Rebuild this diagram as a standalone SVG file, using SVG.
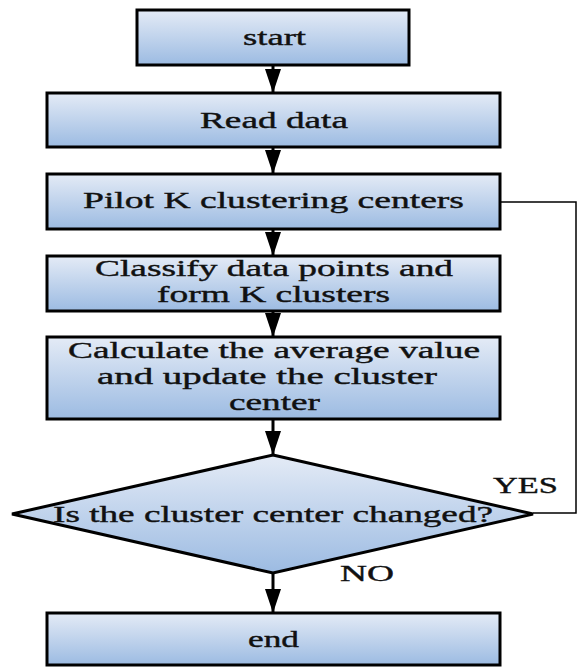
<svg xmlns="http://www.w3.org/2000/svg" width="578" height="668" viewBox="0 0 578 668">
<defs>
<linearGradient id="g" x1="0" y1="0" x2="0" y2="1">
<stop offset="0" stop-color="#e4ebf6"/>
<stop offset="1" stop-color="#9cbbe2"/>
</linearGradient>
<marker id="ah" markerUnits="userSpaceOnUse" markerWidth="26" markerHeight="16" refX="24" refY="8" orient="auto">
<path d="M0,0 L24,8 L0,16 Z" fill="#000"/>
</marker>
<style>
.box{fill:url(#g);stroke:#000;stroke-width:3}
.t{font-family:'Liberation Serif','Times New Roman',serif;font-size:24px;fill:#111;stroke:#111;stroke-width:0.4}
.c{stroke:#000;stroke-width:3;fill:none;marker-end:url(#ah)}
.fb{stroke:#000;stroke-width:1.5;fill:none}
</style>
</defs>
<rect width="578" height="668" fill="#fff"/>
<g id="start">
<rect class="box" x="137" y="10" width="272" height="55"/>
<text class="t" x="243" y="45" textLength="63" lengthAdjust="spacingAndGlyphs">start</text>
</g>
<g id="read">
<rect class="box" x="47" y="93" width="453" height="54"/>
<text class="t" x="200" y="128" textLength="148" lengthAdjust="spacingAndGlyphs">Read data</text>
</g>
<g id="pilot">
<rect class="box" x="47" y="174" width="453" height="55"/>
<text class="t" x="83" y="208" textLength="381" lengthAdjust="spacingAndGlyphs">Pilot K clustering centers</text>
</g>
<g id="classify">
<rect class="box" x="47" y="256" width="453" height="55"/>
<text class="t" x="95" y="276" textLength="358" lengthAdjust="spacingAndGlyphs">Classify data points and</text>
<text class="t" x="157" y="302" textLength="233" lengthAdjust="spacingAndGlyphs">form K clusters</text>
</g>
<g id="calculate">
<rect class="box" x="47" y="337" width="453" height="82"/>
<text class="t" x="68" y="358" textLength="412" lengthAdjust="spacingAndGlyphs">Calculate the average value</text>
<text class="t" x="97" y="384" textLength="340" lengthAdjust="spacingAndGlyphs">and update the cluster</text>
<text class="t" x="229" y="410" textLength="91" lengthAdjust="spacingAndGlyphs">center</text>
</g>
<g id="decision">
<polygon class="box" points="273,455 533,514 273,573 12,514"/>
<text class="t" x="53" y="522" textLength="440" lengthAdjust="spacingAndGlyphs">Is the cluster center changed?</text>
</g>
<g id="end">
<rect class="box" x="47" y="613" width="453" height="52"/>
<text class="t" x="248" y="647" textLength="51" lengthAdjust="spacingAndGlyphs">end</text>
</g>
<g id="connectors">
<line class="c" x1="273" y1="65" x2="273" y2="93"/>
<line class="c" x1="273" y1="147" x2="273" y2="174"/>
<line class="c" x1="273" y1="229" x2="273" y2="256"/>
<line class="c" x1="273" y1="311" x2="273" y2="337"/>
<line class="c" x1="273" y1="419" x2="273" y2="455"/>
<line class="c" x1="273" y1="573" x2="273" y2="613"/>
<polyline class="fb" points="500,202 576,202 576,513 533,513"/>
<text class="t" x="493" y="493" textLength="65" lengthAdjust="spacingAndGlyphs">YES</text>
<text class="t" x="340" y="581" textLength="54" lengthAdjust="spacingAndGlyphs">NO</text>
</g>
</svg>
